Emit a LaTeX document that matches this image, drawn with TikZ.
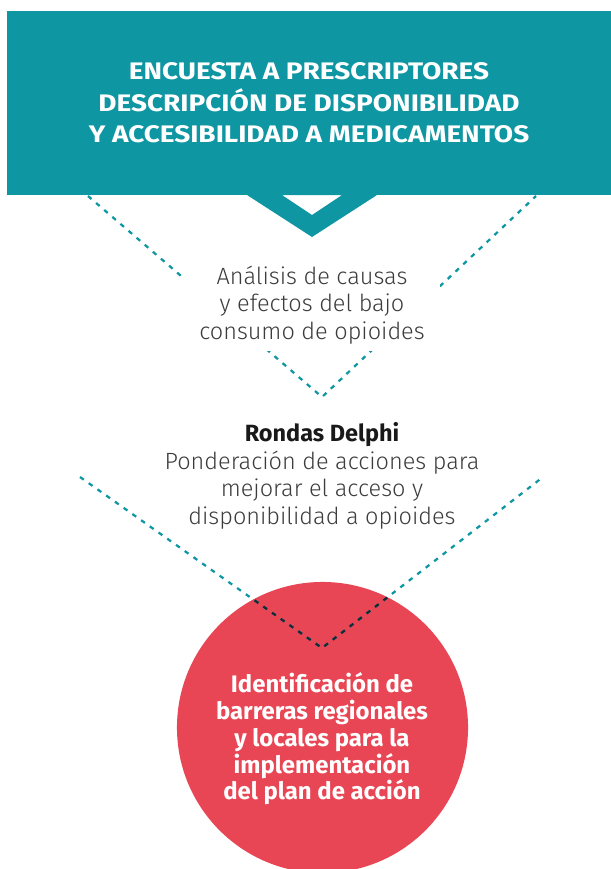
\documentclass[tikz,border=0pt]{standalone}
\usepackage{fontspec}
\setmainfont{Fira Sans}
\newfontfamily\lightfont{Fira Sans Light}
\newfontfamily\headfont{Fira Sans}[FakeStretch=1.17]
\usetikzlibrary{positioning, calc}

\definecolor{tealbox}{RGB}{14,150,163}
\definecolor{redcirc}{RGB}{232,70,84}
\definecolor{darkdot}{RGB}{28,40,52}
\definecolor{graytext}{RGB}{60,60,60}

\begin{document}
\begin{tikzpicture}[
    x=0.025cm, y=-0.025cm,
    topbox/.style={rectangle, fill=tealbox, minimum width=15.1cm, minimum height=4.6cm, inner sep=0pt, text=white, font={\headfont\fontsize{17}{22.4}\selectfont\bfseries}, align=center},
    stepnode/.style={rectangle, inner sep=0pt, text=graytext, font={\lightfont\fontsize{16.7}{19.6}\selectfont}, align=center},
    goalnode/.style={circle, fill=redcirc, minimum size=7.275cm, inner sep=0pt},
    goaltext/.style={text=white, font={\fontsize{17}{19}\selectfont\bfseries}, align=center},
    dotline/.style={tealbox, line width=1.6pt, dash pattern=on 3.3pt off 4.3pt},
    chevron/.style={fill=tealbox, even odd rule}
]
    \useasboundingbox (0,0) rectangle (611,869);

    \node[goalnode] (barreras) at (322.5,727.5) {};

    % dotted guide lines
    \coordinate (v1l)   at (88,196);
    \coordinate (v1r)   at (536,196);
    \coordinate (v1tip) at (322,397);
    \coordinate (v2l)   at (80,477);
    \coordinate (v2r)   at (543,477);
    \coordinate (v2tip) at (322,648);

    \draw[dotline] (v1l) -- (v1tip) -- (v1r);
    \draw[dotline] (v2l) -- (v2tip) -- (v2r);
    \begin{scope}
      \clip (barreras.center) circle[radius=3.6375cm];
      \draw[dotline, darkdot] (v2l) -- (v2tip) -- (v2r);
    \end{scope}

    \node[goaltext] (barrerastxt) at (322,739) {Identificación de\\barreras regionales\\y locales para la\\implementación\\del plan de acción};

    \node[topbox] (encuesta) at (309,103) {ENCUESTA A PRESCRIPTORES\\DESCRIPCIÓN DE DISPONIBILIDAD\\Y ACCESIBILIDAD A MEDICAMENTOS};
    \fill[chevron] (247,195) -- (377,195) -- (312,237) -- cycle
                   (282,195) -- (342,195) -- (312,215) -- cycle;

    \node[stepnode, fill=white, minimum width=6.375cm, minimum height=2.3cm] (analisis) at (312,305) {Análisis de causas\\y efectos del bajo\\consumo de opioides};
    \node[stepnode] (delphi) at (322,476) {{\color{black!90}\rmfamily\bfseries Rondas Delphi}\\Ponderación de acciones para\\mejorar el acceso y\\disponibilidad a opioides};

\end{tikzpicture}
\end{document}
